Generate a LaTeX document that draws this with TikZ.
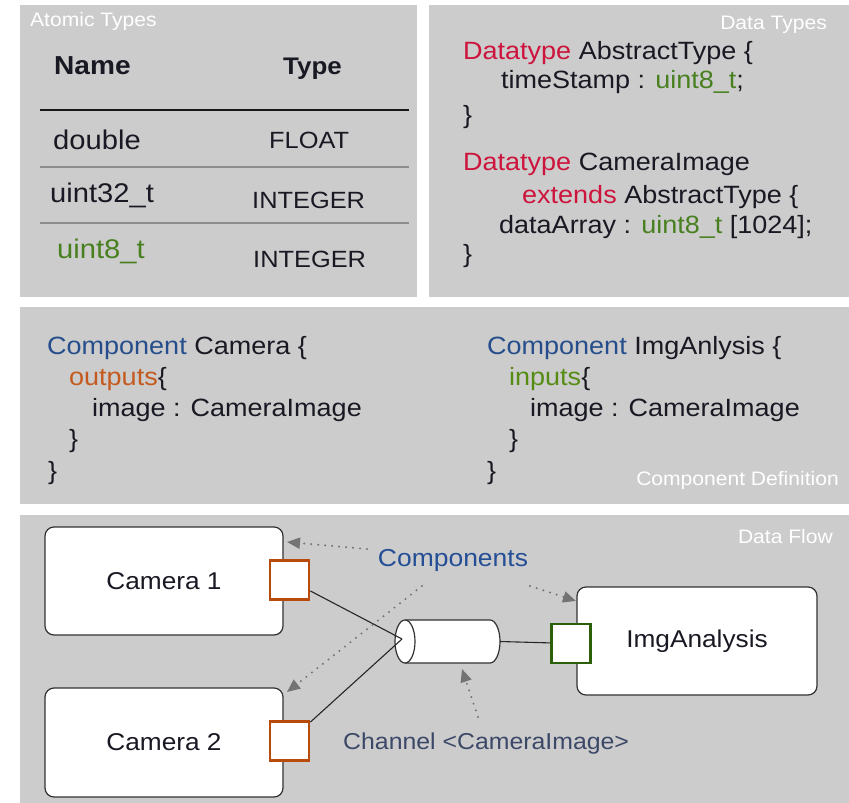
\documentclass[tikz,border=0pt]{standalone}
\usepackage{fontspec}
\setmainfont[FakeStretch=1.08]{Liberation Sans}
\usetikzlibrary{arrows.meta,shapes.geometric}

\definecolor{panelgray}{RGB}{204,204,204}
\definecolor{ink}{RGB}{25,25,35}
\definecolor{dtred}{RGB}{204,20,60}
\definecolor{tgreen}{RGB}{72,128,32}
\definecolor{cblue}{RGB}{38,78,140}
\definecolor{outorange}{RGB}{196,90,30}
\definecolor{ingreen}{RGB}{86,140,20}
\definecolor{portorange}{RGB}{184,74,12}
\definecolor{portgreen}{RGB}{44,96,8}
\definecolor{compblue}{RGB}{36,78,150}
\definecolor{chanblue}{RGB}{60,72,104}
\definecolor{hintgray}{RGB}{115,115,115}
\definecolor{boxline}{RGB}{50,50,50}

\newcommand\fsz[1]{\fontsize{#1}{#1}\selectfont}

\begin{document}
\begin{tikzpicture}[x=1pt,y=-1pt,
  panel/.style={fill=panelgray},
  lbl/.style={inner sep=0, text=white, font=\fsz{19.5}},
  txt/.style={anchor=base west, inner sep=0, text=ink},
  code/.style={txt, font=\fsz{25}},
  lcol/.style={txt, font=\fsz{27}},
  rcol/.style={txt, font=\fsz{23.5}},
  rule/.style={line width=1.5pt, draw=black!45},
  box/.style={draw=boxline, line width=1.2pt, fill=white, rounded corners=9pt,
    minimum width=238pt, minimum height=108pt, inner sep=0, text=ink, font=\fsz{24.3}},
  port/.style={draw=#1, line width=2.8pt, fill=white, minimum size=39pt, inner sep=0},
  link/.style={line width=1.1pt, draw=black!85},
  hint/.style={draw=hintgray, line width=2.2pt, line cap=round, dash pattern=on 0pt off 7pt,
    -{Triangle[length=13pt,width=11pt]}},
]
\useasboundingbox (0,0) rectangle (849,803);

% ---------- background panels ----------
\fill[panel] (20,5) rectangle (417,297);
\fill[panel] (429,5) rectangle (849,297);
\fill[panel] (20,307) rectangle (849,504);
\fill[panel] (20,515) rectangle (849,803);

% ---------- atomic types ----------
\node[lbl, anchor=base west] (atomlbl) at (30,26) {Atomic Types};
\node[txt, font=\bfseries\fsz{26}] (hname) at (54,74) {Name};
\node[txt, font=\bfseries\fsz{24}] (htype) at (283,74) {Type};
\draw[line width=1.3pt, draw=black!90] (40,110) -- (409,110);
\node[lcol] (n1) at (53,149) {double};
\node[rcol] (t1) at (269,148) {FLOAT};
\draw[rule] (40,167) -- (409,167);
\node[lcol] (n2) at (50,202) {uint32\_t};
\node[rcol] (t2) at (252,208) {INTEGER};
\draw[rule] (40,223) -- (409,223);
\node[lcol, text=tgreen] (n3) at (57,258) {uint8\_t};
\node[rcol] (t3) at (253,267) {INTEGER};

% ---------- data types ----------
\node[lbl, anchor=base east] (dtlbl) at (827,29) {Data Types};
\node[code] (d1) at (463,59) {\textcolor{dtred}{Datatype} AbstractType \{};
\node[code] (d2) at (501,88) {timeStamp : \textcolor{tgreen}{uint8\_t};};
\node[code] (d3) at (463,123) {\}};
\node[code] (d4) at (463,170) {\textcolor{dtred}{Datatype} CameraImage};
\node[code] (d5) at (522,203) {\textcolor{dtred}{extends} AbstractType \{};
\node[code] (d6) at (499,233) {dataArray : \textcolor{tgreen}{uint8\_t} [1024];};
\node[code] (d7) at (463,262) {\}};

% ---------- component definition ----------
\node[code] (c1) at (47,354) {\textcolor{cblue}{Component} Camera \{};
\node[code] (c2) at (69,385) {\textcolor{outorange}{outputs}\{};
\node[code] (c3) at (92,416) {image : CameraImage};
\node[code] (c4) at (69,447) {\}};
\node[code] (c5) at (48,479) {\}};
\node[code] (i1) at (487,354) {\textcolor{cblue}{Component} ImgAnlysis \{};
\node[code] (i2) at (509,385) {\textcolor{ingreen}{inputs}\{};
\node[code] (i3) at (530,416) {image : CameraImage};
\node[code] (i4) at (509,447) {\}};
\node[code] (i5) at (487,479) {\}};
\node[lbl, anchor=base east] (cdlbl) at (839,485) {Component Definition};

% ---------- data flow ----------
\node[lbl, anchor=base east] (dflbl) at (833,543) {Data Flow};

\node[box] (cam1) at (164,581) {Camera 1};
\node[box, minimum height=109pt] (cam2) at (164,742.5) {Camera 2};
\node[box, minimum width=240pt] (img) at (697,641) {ImgAnalysis};

\node[port=portorange] (out1) at (289.5,580) {};
\node[port=portorange] (out2) at (289.5,741) {};
\node[port=portgreen] (inp) at (571,643.5) {};

% channel: a cylinder lying on its side
\path[fill=white, draw=boxline, line width=1.2pt]
  (405,620) -- (490,620) arc[start angle=-90, end angle=90, x radius=10, y radius=21.5] -- (405,663);
\node[ellipse, draw=boxline, line width=1.2pt, fill=white, minimum width=20pt,
  minimum height=43pt, inner sep=0] (chanfront) at (405,641.5) {};
\coordinate (chanin) at (402,639);
\coordinate (chanout) at (500,641.5);

\draw[link] (out1) -- (chanin);
\draw[link] (out2) -- (chanin);
\draw[link] (chanout) -- (inp);

% annotations
\node[inner sep=0, text=compblue, font=\fsz{24.5}] (comps) at (453,560) {Components};
\node[txt, text=chanblue, font=\fsz{23}] (chanlbl) at (343,749) {Channel <CameraImage>};

\coordinate (h1s) at (367,549);  \coordinate (h1e) at (287,542);
\coordinate (h2s) at (422,586);  \coordinate (h2e) at (287,692);
\coordinate (h3s) at (530,586);  \coordinate (h3e) at (576,601);
\coordinate (h4s) at (478,717);  \coordinate (h4e) at (462,669);
\draw[hint] (h1s) -- (h1e);
\draw[hint] (h2s) -- (h2e);
\draw[hint] (h3s) -- (h3e);
\draw[hint] (h4s) -- (h4e);
\end{tikzpicture}
\end{document}
